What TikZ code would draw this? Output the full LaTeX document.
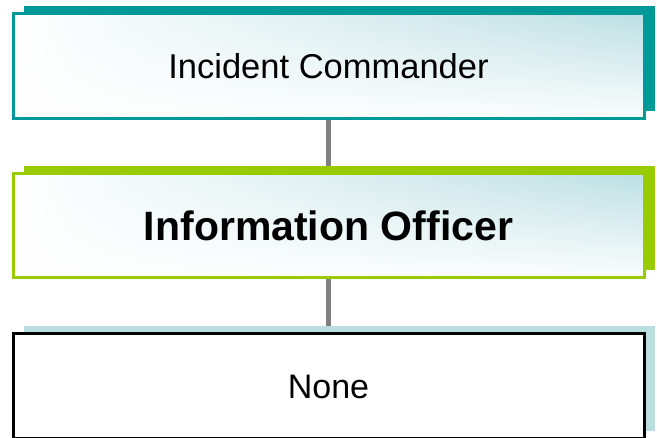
\documentclass[tikz,border=0pt]{standalone}
\usepackage{fontspec}
\setmainfont{Liberation Sans}
\usepackage{tikz}
\usetikzlibrary{shadows,fadings,backgrounds}
\usepackage{xcolor}

\definecolor{icteal}{RGB}{0,153,153}
\definecolor{iogreen}{RGB}{153,204,0}
\definecolor{pale}{RGB}{184,222,224}
\definecolor{tint}{RGB}{188,224,227}
\definecolor{linkgray}{RGB}{128,128,128}

% lower half of the boxes fades back to white
\tikzfading[name=fade up, top color=transparent!100, middle color=transparent!85, bottom color=transparent!5]

\begin{document}
\begin{tikzpicture}[x=1pt,y=1pt]
        \tikzstyle{post}=[rectangle,inner sep=0pt,minimum width=631pt,text centered,line width=3pt]
        \tikzstyle{tinted}=[left color=white,right color=tint,
            path picture={\fill[white,path fading=fade up] (path picture bounding box.south west) rectangle (path picture bounding box.north east);}]
        \tikzstyle{link}=[linkgray,line width=4.5pt]

        \useasboundingbox (0,0) rectangle (657,-438);

        \node[post,tinted,draw=icteal,minimum height=105pt,
              general shadow={fill=icteal,shadow xshift=11pt,shadow yshift=8pt}]
              (ic) at (328.5,-66.5) {\fontsize{34.5}{40}\selectfont Incident Commander};

        \node[post,tinted,draw=iogreen,minimum height=104pt,
              general shadow={fill=iogreen,shadow xshift=11pt,shadow yshift=8pt}]
              (pio) at (328.5,-226) {\fontsize{41}{46}\selectfont\bfseries Information Officer};

        \node[post,fill=white,draw=black,minimum height=105pt,
              general shadow={fill=pale,shadow xshift=11pt,shadow yshift=8pt}]
              (none) at (328.5,-386.5) {\fontsize{34}{40}\selectfont None};

        % reporting lines sit behind the boxes
        \begin{scope}[on background layer]
            \draw[link] (ic) -- (pio);
            \draw[link] (pio) -- (none);
        \end{scope}

\end{tikzpicture}
\end{document}
